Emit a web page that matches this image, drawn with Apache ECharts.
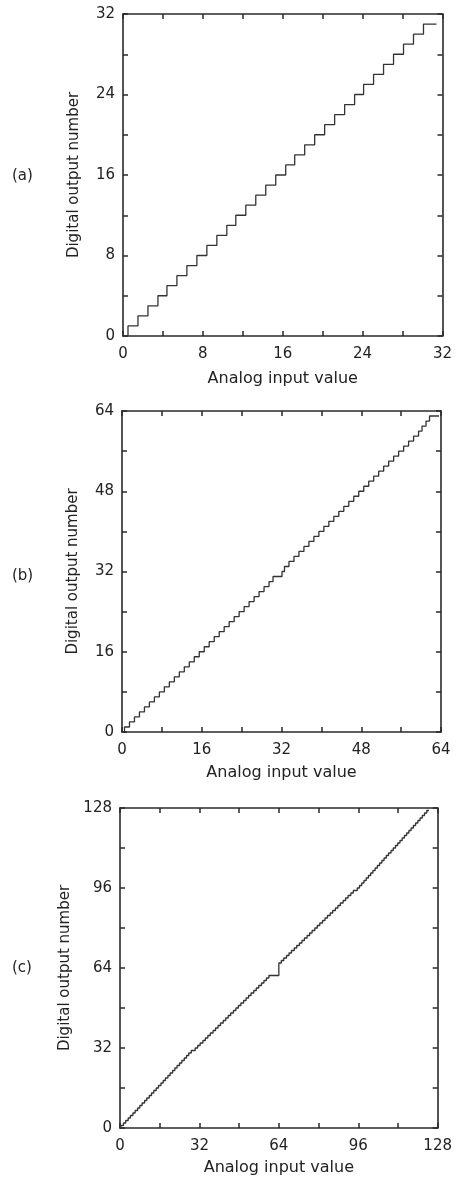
<!DOCTYPE html>
<html>
<head>
<meta charset="utf-8">
<script src="https://cdn.jsdelivr.net/npm/echarts@6/dist/echarts.min.js"></script>
<style>html,body{margin:0;padding:0;background:#fff;}#c{width:455px;height:1177px;}</style>
</head>
<body>
<div id="c"></div>
<script>
// Panel labels
const panelLabels = ['(a)', '(b)', '(c)'];
const xTitle = 'Analog input value';
const yTitle = 'Digital output number';

// Axis ranges and labelled ticks
const aTicks = [0, 8, 16, 24, 32];
const bTicks = [0, 16, 32, 48, 64];
const cTicks = [0, 32, 64, 96, 128];

// Transition inputs (analog value where output number steps up by one)
const aTransitions = [0.5, 1.5, 2.5, 3.5, 4.4, 5.4, 6.4, 7.4, 8.4, 9.4, 10.4, 11.3, 12.3, 13.3, 14.3, 15.3,
  16.3, 17.2, 18.2, 19.2, 20.2, 21.2, 22.2, 23.2, 24.1, 25.1, 26.1, 27.1, 28.1, 29.1, 30.1];
const aEnd = 31.4;

const bTransitions = [0.5, 1.5, 2.5, 3.5, 4.5, 5.5, 6.5, 7.5, 8.5, 9.5, 10.5, 11.5, 12.5, 13.5, 14.5, 15.5,
  16.5, 17.5, 18.5, 19.5, 20.5, 21.5, 22.5, 23.5, 24.5, 25.5, 26.5, 27.5, 28.5, 29.5, 30.3, 32.1,
  32.6, 33.5, 34.5, 35.5, 36.5, 37.5, 38.5, 39.5, 40.5, 41.5, 42.5, 43.5, 44.5, 45.5, 46.5, 47.5,
  48.5, 49.5, 50.5, 51.5, 52.5, 53.5, 54.5, 55.5, 56.5, 57.5, 58.5, 59.5, 60.2, 61.0, 61.7];
const bEnd = 63.6;

const cTransitions = [0.5, 1.4, 2.3, 3.3, 4.2, 5.2, 6.1, 7.1, 8.0, 8.9, 9.9, 10.8, 11.8, 12.7, 13.6, 14.6,
  15.5, 16.5, 17.4, 18.3, 19.3, 20.2, 21.2, 22.1, 23.0, 24.0, 24.9, 25.9, 26.8, 27.7, 28.7, 30.3,
  31.3, 32.3, 33.4, 34.4, 35.4, 36.4, 37.5, 38.5, 39.5, 40.5, 41.6, 42.6, 43.6, 44.6, 45.7, 46.7,
  47.7, 48.7, 49.8, 50.8, 51.8, 52.8, 53.9, 54.9, 55.9, 57.0, 58.0, 59.0, 60.0, 64.0, 64.0, 64.0,
  64.0, 64.0, 65.0, 66.0, 67.1, 68.1, 69.1, 70.2, 71.2, 72.3, 73.3, 74.3, 75.4, 76.4, 77.4, 78.5,
  79.5, 80.5, 81.6, 82.6, 83.6, 84.7, 85.7, 86.8, 87.8, 88.8, 89.9, 90.9, 91.9, 93.0, 94.0, 95.6,
  96.5, 97.4, 98.3, 99.2, 100.1, 101.0, 101.9, 102.8, 103.7, 104.6, 105.5, 106.4, 107.3, 108.2, 109.2, 110.1,
  111.0, 111.9, 112.8, 113.7, 114.6, 115.5, 116.4, 117.3, 118.2, 119.1, 120.0, 120.9, 121.8, 122.7, 123.6];
const cEnd = 124.5;

function staircase(trans, endX) {
  const pts = [[0, 0]];
  trans.forEach((t, i) => pts.push([t, i + 1]));
  pts.push([endX, trans.length]);
  return pts;
}

const FONT = 'DejaVu Sans';
const AX = '#2a2a2a';

const panels = [
  {ticks: aTicks, trans: aTransitions, end: aEnd, grid: {left: 123, top: 14, width: 321, height: 322}, xGap: 35},
  {ticks: bTicks, trans: bTransitions, end: bEnd, grid: {left: 122, top: 411, width: 319, height: 321}, xGap: 33},
  {ticks: cTicks, trans: cTransitions, end: cEnd, grid: {left: 120, top: 808, width: 320, height: 320}, xGap: 32}
];

const grid = [], xAxis = [], yAxis = [], series = [];
panels.forEach((p, i) => {
  const max = p.ticks[p.ticks.length - 1];
  const step = p.ticks[1] - p.ticks[0];
  const minor = step / 2;
  grid.push(p.grid);
  const lbl = (v) => (p.ticks.indexOf(v) >= 0 ? String(v) : '');
  const common = {
    type: 'value', min: 0, max: max, interval: minor, gridIndex: i,
    splitLine: {show: false},
    axisLine: {show: true, onZero: false, lineStyle: {color: AX, width: 1.6}},
    axisTick: {show: true, inside: true, length: 5, lineStyle: {color: AX, width: 1.5}}
  };
  xAxis.push(Object.assign({}, common, {
    position: 'bottom',
    name: xTitle, nameLocation: 'middle', nameGap: p.xGap,
    nameTextStyle: {fontFamily: FONT, fontSize: 16, color: '#222'},
    axisLabel: {show: true, formatter: lbl, margin: 11, fontFamily: FONT, fontSize: 15, color: '#222', showMaxLabel: true, showMinLabel: true}
  }));
  xAxis.push(Object.assign({}, common, {position: 'top', axisLabel: {show: false}}));
  yAxis.push(Object.assign({}, common, {
    position: 'left',
    name: yTitle, nameLocation: 'middle', nameGap: 41,
    nameTextStyle: {fontFamily: FONT, fontSize: 15, color: '#222'},
    axisLabel: {show: true, formatter: lbl, margin: 8, fontFamily: FONT, fontSize: 15, color: '#222', showMaxLabel: true, showMinLabel: true}
  }));
  yAxis.push(Object.assign({}, common, {position: 'right', axisLabel: {show: false}}));
  series.push({
    type: 'line', xAxisIndex: 2 * i, yAxisIndex: 2 * i, step: 'end',
    data: staircase(p.trans, p.end), showSymbol: false, symbol: 'none', animation: false,
    lineStyle: {color: '#333', width: 1.3}
  });
});

const labelY = [178, 578, 970];
const graphic = panelLabels.map((t, i) => ({
  type: 'text', left: 12, top: labelY[i] - 9,
  style: {text: t, font: '15px "DejaVu Sans"', fill: '#222'}
}));

const chart = echarts.init(document.getElementById('c'), null, {renderer: 'canvas'});
chart.setOption({animation: false, backgroundColor: '#fff', grid, xAxis, yAxis, series, graphic});
</script>
</body>
</html>
